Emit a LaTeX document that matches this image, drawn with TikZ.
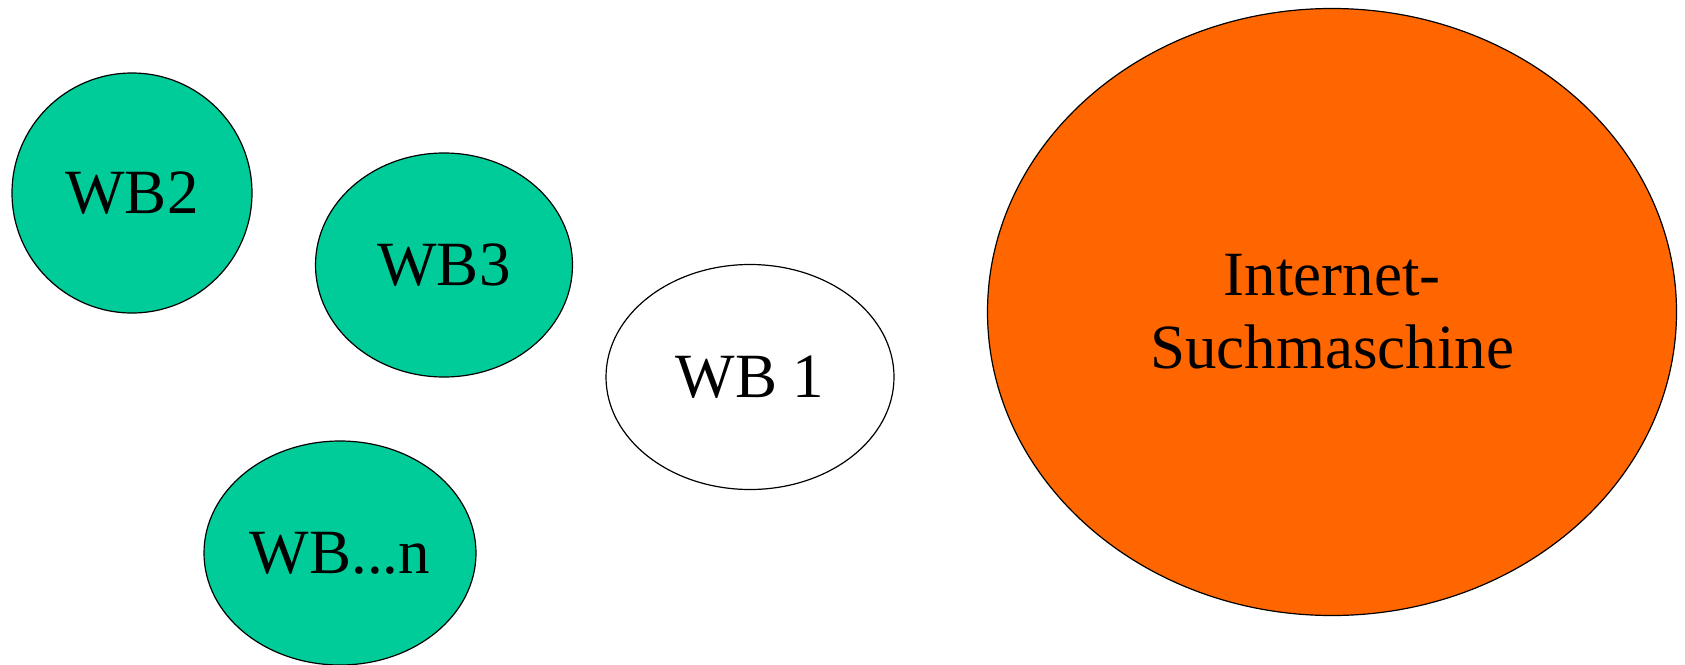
\documentclass[tikz,border=0pt]{standalone}
\usepackage{fontspec}
\setmainfont{Liberation Serif}
\usepackage{xcolor}
\usepackage{tikz}
\usetikzlibrary{positioning, shapes.geometric}
\definecolor{wbGreen}{RGB}{0, 204, 153}
\definecolor{wbOrange}{RGB}{255, 102, 0}
\tikzset{
    base/.style={
        font=\fontsize{63}{73}\selectfont,
        align=center,
        inner sep=0pt
    },
    blob/.style={
        base,
        ellipse,
        draw=black,
        line width=1.2pt
    },
    peer/.style={
        blob,
        fill=wbGreen
    },
    self/.style={
        blob,
        fill=white
    },
    engine/.style={
        blob,
        fill=wbOrange
    }
}

\begin{document}
\begin{tikzpicture}[x=1pt, y=-1pt]
    \useasboundingbox (0,0) rectangle (1685,664);

    % Other Web-Browsers (peers)
    \node[peer, minimum width=240pt, minimum height=240pt] (wbtwo) at (132,193) {WB2};
    \node[peer, minimum width=257pt, minimum height=224pt] (wbthree) at (444,265) {WB3};
    \node[peer, minimum width=272pt, minimum height=224pt] (wbn) at (340,553) {WB...n};

    % Own Web-Browser
    \node[self, minimum width=288pt, minimum height=225pt] (wbone) at (750,377) {WB 1};

    % Search engine
    \node[engine, minimum width=689pt, minimum height=607pt] (engine) at (1332,312) {Internet-\\Suchmaschine};

\end{tikzpicture}
\end{document}
